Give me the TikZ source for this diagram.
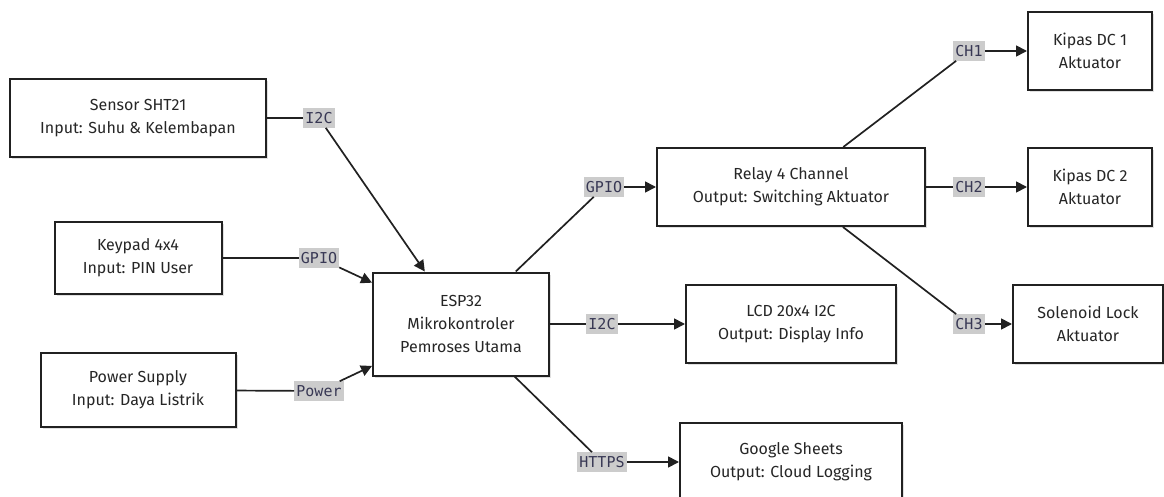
\documentclass[tikz,border=0pt]{standalone}
\usepackage{fontspec}
\setmainfont{Fira Sans}
\newfontfamily\labelfont{DejaVu Sans Mono}
\usetikzlibrary{arrows.meta,shadows}
\definecolor{boxline}{rgb}{0.13,0.13,0.13}
\definecolor{labelgray}{rgb}{0.80,0.80,0.80}
\definecolor{labelink}{rgb}{0.22,0.22,0.33}
\tikzset{
  modul/.style={
    draw=boxline,
    line width=2pt,
    fill=white,
    align=center,
    minimum height=78pt,
    inner sep=0pt,
    text=black!85,
    font=\fontsize{16}{23}\selectfont,
    drop shadow={shadow xshift=2pt,shadow yshift=-2pt,fill=black!12,opacity=1}
  },
  jalur/.style={
    fill=labelgray,
    text=labelink,
    inner xsep=2pt,
    inner ysep=4pt,
    font=\labelfont\fontsize{15}{15}\selectfont
  },
  garis/.style={
    line width=1.7pt,
    boxline
  },
  arrow/.style={
    garis,
    -{Triangle[length=11pt,width=11pt]}
  }
}
\begin{document}
\begin{tikzpicture}[x=1pt,y=-1pt]
\useasboundingbox (0,0) rectangle (1164,497);
% input
\node[modul,minimum width=256pt] (sensor) at (138,118) {Sensor SHT21\\Input: Suhu \& Kelembapan};
\node[modul,minimum width=167pt,minimum height=72pt] (keypad) at (138,258) {Keypad 4x4\\Input: PIN User};
\node[modul,minimum width=195pt,minimum height=74pt] (power) at (138,390) {Power Supply\\Input: Daya Listrik};
% pusat
\node[modul,minimum width=176pt,minimum height=103pt] (esp) at (461,324) {ESP32\\Mikrokontroler\\Pemroses Utama};
% output
\node[modul,minimum width=268pt] (relay) at (791,187) {Relay 4 Channel\\Output: Switching Aktuator};
\node[modul,minimum width=210pt] (lcd) at (791,324) {LCD 20x4 I2C\\Output: Display Info};
\node[modul,minimum width=222pt] (sheets) at (791,462) {Google Sheets\\Output: Cloud Logging};
\node[modul,minimum width=124pt] (kipas1) at (1090,51) {Kipas DC 1\\Aktuator};
\node[modul,minimum width=124pt] (kipas2) at (1090,187) {Kipas DC 2\\Aktuator};
\node[modul,minimum width=150pt] (solenoid) at (1088,324) {Solenoid Lock\\Aktuator};
% label jalur
\node[jalur] (lsensor) at (319,118) {I2C};
\node[jalur] (lkeypad) at (319,258) {GPIO};
\node[jalur] (lpower) at (319,391) {Power};
\node[jalur] (lrelay) at (604,187) {GPIO};
\node[jalur] (llcd) at (602,324) {I2C};
\node[jalur] (lsheets) at (602,462) {HTTPS};
\node[jalur] (lch1) at (969,51) {CH1};
\node[jalur] (lch2) at (969,187) {CH2};
\node[jalur] (lch3) at (969,324) {CH3};
% koneksi
\draw[garis] (sensor) -- (lsensor);
\draw[arrow] (lsensor) -- (esp);
\draw[garis] (keypad) -- (lkeypad);
\draw[arrow] (lkeypad) -- (esp);
\draw[garis] (power) -- (lpower);
\draw[arrow] (lpower) -- (esp);
\draw[garis] (esp) -- (lrelay);
\draw[arrow] (lrelay) -- (relay);
\draw[garis] (esp) -- (llcd);
\draw[arrow] (llcd) -- (lcd);
\draw[garis] (esp) -- (lsheets);
\draw[arrow] (lsheets) -- (sheets);
\draw[garis] (relay) -- (lch1);
\draw[arrow] (lch1) -- (kipas1);
\draw[garis] (relay) -- (lch2);
\draw[arrow] (lch2) -- (kipas2);
\draw[garis] (relay) -- (lch3);
\draw[arrow] (lch3) -- (solenoid);
\end{tikzpicture}
\end{document}
